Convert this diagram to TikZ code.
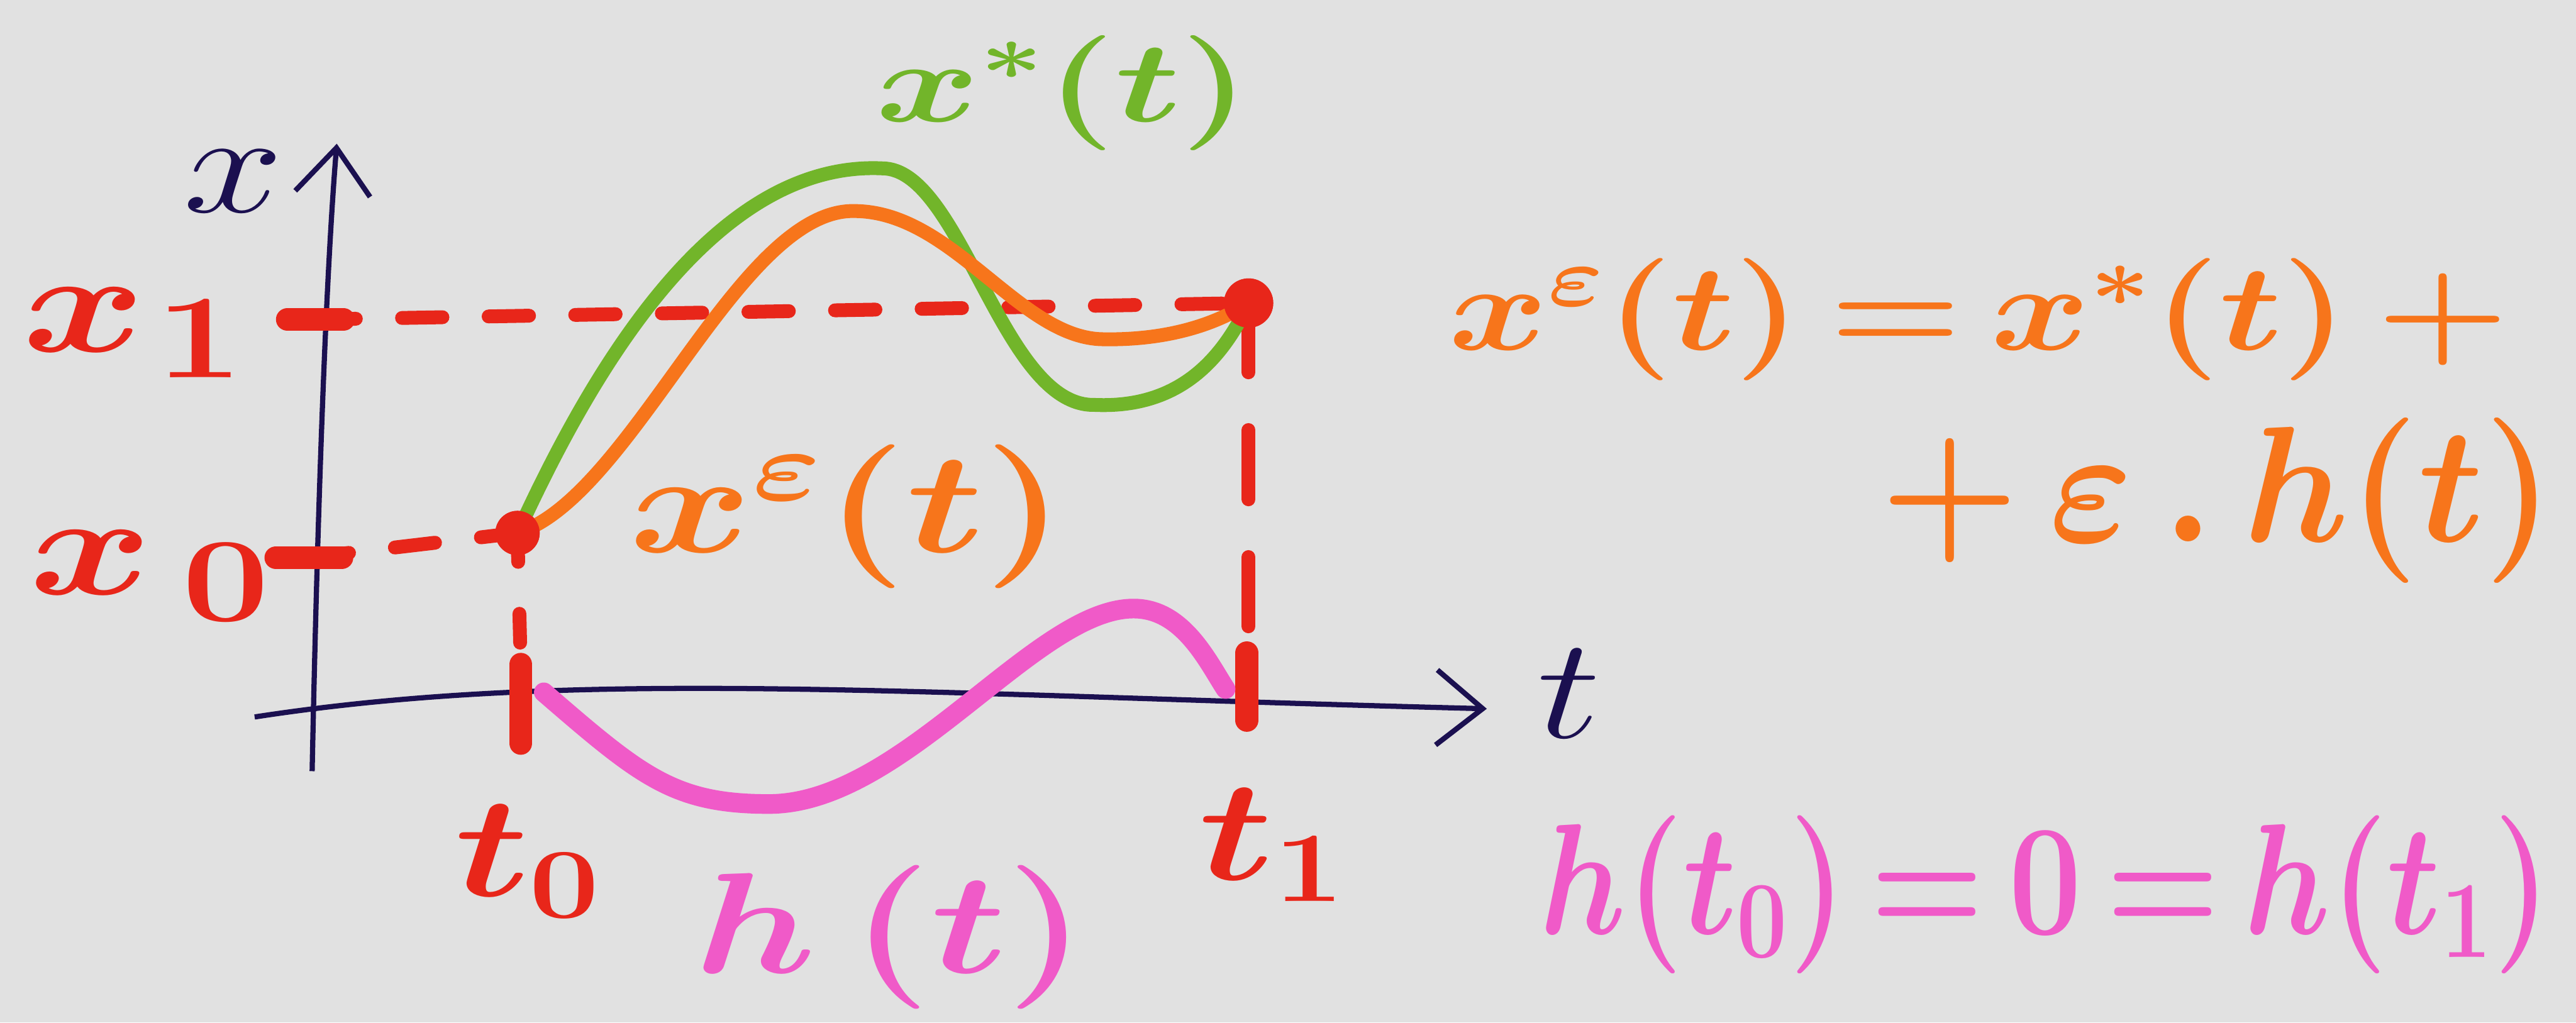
\documentclass[tikz,border=0pt]{standalone}
\usepackage{amsmath}
\usetikzlibrary{arrows.meta,positioning}
\definecolor{paper}{HTML}{E1E1E1}
\definecolor{ink}{HTML}{1B1050}
\definecolor{dotred}{HTML}{E8261A}
\definecolor{pertorange}{HTML}{F7751B}
\definecolor{optgreen}{HTML}{72B52A}
\definecolor{hpink}{HTML}{F05AC8}

\begin{document}
\begin{tikzpicture}[
  axis/.style={line width=0.9pt, draw=ink, -{Straight Barb[length=8pt,width=13pt,line width=0.9pt]}},
  guide/.style={line width=2.4pt, draw=dotred, dash pattern=on 7pt off 8pt, line cap=round},
  tick/.style={line width=4pt, draw=dotred, line cap=round},
  curve/.style={line width=2.4pt, line cap=round},
  dot/.style={circle, fill=dotred, inner sep=0pt, minimum size=0.27cm},
  lbl/.style={font=\fontsize{25}{30}\selectfont\boldmath, inner sep=0pt},
  axlbl/.style={font=\fontsize{24}{28}\selectfont, inner sep=0pt, text=ink, xscale=1.25},
]
\useasboundingbox (0,0) rectangle (15.68,6.225);
\fill[paper] (0,0) rectangle (15.68,6.225);

% axes
\coordinate (o) at (1.90,1.53);
\coordinate (xtop) at (2.05,5.35);
\coordinate (tl) at (1.55,1.86);
\coordinate (tr) at (9.05,1.91);
\draw[axis] (o) .. controls (1.93,3.0) and (1.98,4.5) .. (xtop);
\draw[axis] (tl) .. controls (3.5,2.16) and (5.5,2.0) .. (tr);
\node[axlbl] (xname) at (1.42,5.12) {$x$};
\node[axlbl] (tname) at (9.55,2.0) {$t$};

% end points
\node[dot] (p0) at (3.15,2.98) {};
\node[dot, minimum size=0.3cm] (p1) at (7.60,4.38) {};
\coordinate (x1tick) at (1.92,4.28);
\coordinate (x0tick) at (1.88,2.83);
\coordinate (t0foot) at (3.18,1.72);
\coordinate (t1foot) at (7.60,1.84);

% guides
\draw[guide] (x1tick) -- (p1.center);
\draw[guide] (x0tick) -- (p0.center);
\draw[guide, dash pattern=on 5pt off 9pt] (p0.center) -- (t0foot);
\draw[guide, dash pattern=on 12pt off 10pt] (p1.center) -- (t1foot);
\draw[tick] ([xshift=-0.17cm]x1tick) -- ([xshift=0.17cm]x1tick);
\draw[tick] ([xshift=-0.2cm]x0tick) -- ([xshift=0.2cm]x0tick);
\draw[tick] (3.17,1.70) -- (3.17,2.18);
\draw[tick] (7.59,1.84) -- (7.59,2.25);

% x*(t)
\draw[curve, optgreen] (p0.center) .. controls (3.55,3.85) and (4.3,5.25) .. (5.37,5.20)
  .. controls (5.85,5.2) and (6.1,3.75) .. (6.66,3.76)
  .. controls (7.1,3.74) and (7.4,3.95) .. (p1.center);
% x^eps(t)
\draw[curve, pertorange] (p0.center) .. controls (3.85,3.2) and (4.5,4.97) .. (5.21,4.94)
  .. controls (5.8,4.93) and (6.2,4.18) .. (6.70,4.16)
  .. controls (7.1,4.15) and (7.4,4.25) .. (p1.center);
\node[dot] at (p0) {};
\node[dot, minimum size=0.3cm] at (p1) {};

% h(t)
\coordinate (h0) at (3.31,2.01);
\coordinate (h1) at (7.46,2.03);
\draw[curve, hpink, line width=3.4pt] (h0) .. controls (3.9,1.5) and (4.1,1.33) .. (4.68,1.33)
  .. controls (5.5,1.33) and (6.3,2.52) .. (6.9,2.52)
  .. controls (7.2,2.52) and (7.35,2.2) .. (h1);

% labels
\node[lbl, font=\fontsize{28}{34}\selectfont\boldmath, text=dotred, xscale=1.3] (x1name) at (0.82,4.20) {$x_{\mkern1mu 1}$};
\node[lbl, font=\fontsize{28}{34}\selectfont\boldmath, text=dotred, xscale=1.3] (x0name) at (0.92,2.72) {$x_{\mkern3mu 0}$};
\node[lbl, text=dotred, xscale=1.25] (t0name) at (3.22,0.98) {$t_0$};
\node[lbl, text=dotred, xscale=1.25] (t1name) at (7.75,1.08) {$t_1$};
\node[lbl, text=optgreen, xscale=1.1, yscale=0.8] (xstar) at (6.47,5.66) {$x^*(t)$};
\node[lbl, text=pertorange, xscale=1.3] (xeps) at (5.16,3.08) {$x^{\varepsilon}(t)$};
\node[lbl, text=hpink, xscale=1.27] (hname) at (5.42,0.52) {$h\,(t)$};

% formulas
\node[lbl, text=pertorange, anchor=east, font=\fontsize{24}{28}\selectfont\boldmath, xscale=1.05, yscale=0.85]
  (line1) at (15.28,4.28) {$x^\varepsilon(t)\,{=}\,x^*(t)\,+$};
\node[lbl, text=pertorange, anchor=east, font=\fontsize{28}{34}\selectfont\boldmath, xscale=1.1, yscale=1.15]
  (line2) at (15.55,3.18) {$+\,\varepsilon\,.\,h(t)$};
\node[lbl, text=hpink, xscale=0.9, yscale=1.1] (hzero) at (12.45,0.78) {$h(t_0)\,{=}\,0\,{=}\,h(t_1)$};
\end{tikzpicture}
\end{document}
